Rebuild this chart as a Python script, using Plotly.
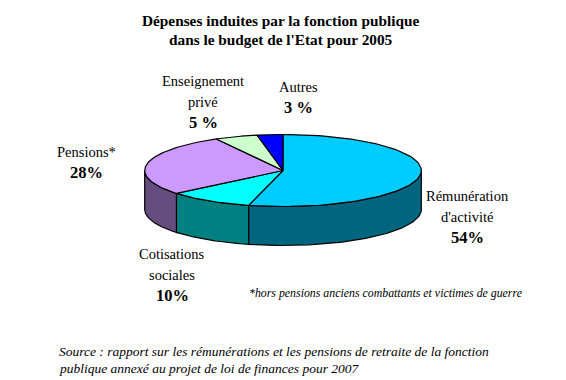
import numpy as np
import plotly.graph_objects as go

categories = ["Rémunération d'activité", "Cotisations sociales", "Pensions*", "Enseignement privé", "Autres"]
values = [54, 10, 28, 5, 3]
top_colors = ["#00CCFF", "#00FFFF", "#CC99FF", "#CCFFCC", "#0000FF"]
side_colors = ["#006680", "#008080", "#664D80", "#669966", "#000080"]

title_lines = ["Dépenses induites par la fonction publique", "dans le budget de l'Etat pour 2005"]
footnote_text = "*hors pensions anciens combattants et victimes de guerre"
source_lines = ["Source : rapport sur les rémunérations et les pensions de retraite de la fonction",
                "publique annexé au projet de loi de finances pour 2007"]
label_names = [["Rémunération", "d'activité"], ["Cotisations", "sociales"], ["Pensions*"],
               ["Enseignement", "privé"], ["Autres"]]
label_shares = ["54%", "10%", "28%", "5 %", "3 %"]
label_anchors = [(467, 196), (172, 254), (86, 152), (203, 81), (298, 87)]

CX, CY, RX, RY, DEPTH = 283, 170.5, 138.3, 36, 39
FONT = "Liberation Serif"
LINE = 20.5


def arc(a0, a1, n=80, dy=0.0):
    t = np.linspace(a0, a1, n)
    return CX + RX * np.sin(t), CY - RY * np.cos(t) + dy


fig = go.Figure()
edges = np.cumsum([0] + values) / sum(values) * 2 * np.pi

for i in range(len(values)):
    a0 = max(edges[i], np.pi / 2)
    a1 = min(edges[i + 1], 3 * np.pi / 2)
    if a1 > a0:
        xt, yt = arc(a0, a1)
        xb, yb = arc(a1, a0, dy=DEPTH)
        fig.add_trace(go.Scatter(x=np.r_[xt, xb, xt[0]], y=np.r_[yt, yb, yt[0]], mode="lines", fill="toself",
                                 fillcolor=side_colors[i], line=dict(color="black", width=1.2), hoverinfo="skip"))

for i, name in enumerate(categories):
    xa, ya = arc(edges[i], edges[i + 1])
    fig.add_trace(go.Scatter(x=np.r_[CX, xa, CX], y=np.r_[CY, ya, CY], mode="lines", fill="toself", name=name,
                             fillcolor=top_colors[i], line=dict(color="black", width=1.2), hoverinfo="skip"))


def note(x, y, text, size, anchor="center"):
    return dict(x=x, y=y, text=text, xanchor=anchor, yanchor="middle", showarrow=False, xref="x", yref="y",
                font=dict(family=FONT, size=size, color="black"))


annotations = [
    note(280, 20, f"<b>{title_lines[0]}</b>", 15.3),
    note(281, 39, f"<b>{title_lines[1]}</b>", 15.3),
    note(247, 293, f"<i>{footnote_text}</i>", 11.85, "left"),
    note(57, 351, f"<i>{source_lines[0]}</i>", 13.5, "left"),
    note(57, 368, f"<i>{source_lines[1]}</i>", 13.5, "left"),
]
for names, share, (x, y) in zip(label_names, label_shares, label_anchors):
    for k, line in enumerate(names):
        annotations.append(note(x, y + k * LINE, line, 14.5))
    annotations.append(note(x, y + len(names) * LINE, f"<b>{share}</b>", 16.5))

# The page body keeps its default 8 px margin, so the plot starts at (8, 8) in the window.
fig.update_layout(
    width=558, height=372, margin=dict(l=0, r=0, t=0, b=0), showlegend=False,
    paper_bgcolor="white", plot_bgcolor="white", annotations=annotations,
    xaxis=dict(range=[8, 566], visible=False, fixedrange=True),
    yaxis=dict(range=[380, 8], visible=False, fixedrange=True),
)
fig.write_html("out.html", config={"displayModeBar": False})
